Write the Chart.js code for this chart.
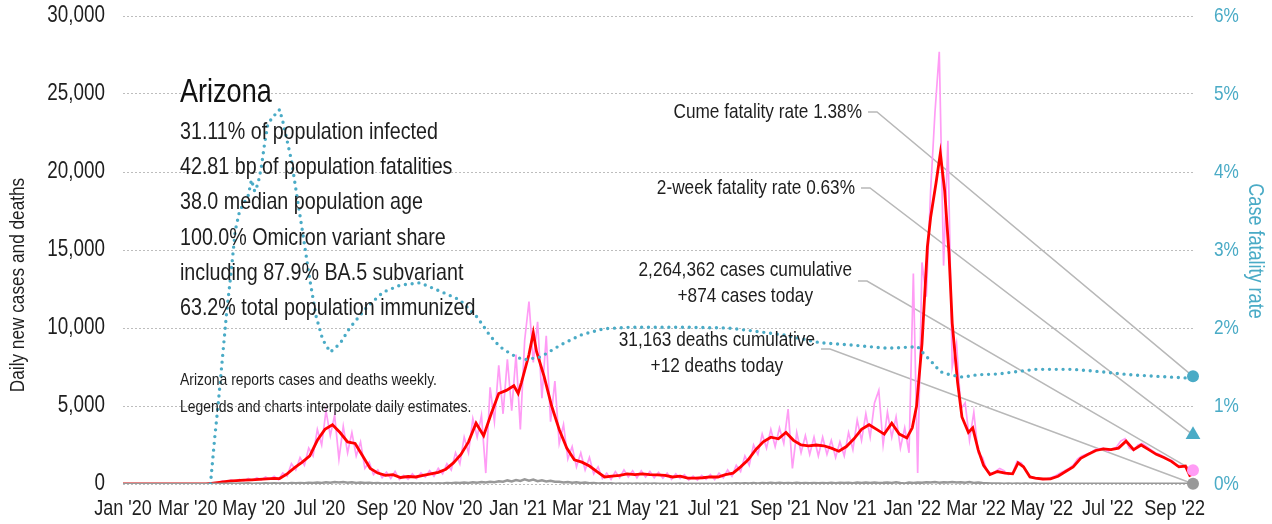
<!DOCTYPE html>
<html>
<head>
<meta charset="utf-8">
<script src="https://cdn.jsdelivr.net/npm/chart.js@4.4.1/dist/chart.umd.min.js"></script>
<style>
  html, body { margin: 0; padding: 0; background: #fff; }
  #chart { display: block; }
</style>
</head>
<body>
<canvas id="chart" width="1272" height="524"></canvas>
<script>
// no condensed face is installed, so text is drawn in Liberation Sans squeezed horizontally
const FONT = '"Liberation Sans", Arial, sans-serif';
const NARROW = 0.82;
const TEAL = '#4aabc6';
const PINK = '#ff9cf5';
const INK = '#1e1e1e';

// x axis runs in days since Jan 1 2020
const tickDays = [0, 60, 121, 182, 244, 305, 366, 425, 486, 547, 609, 670, 731, 790, 851, 912, 974];
const tickLabels = ["Jan '20", "Mar '20", "May '20", "Jul '20", "Sep '20", "Nov '20",
                    "Jan '21", "Mar '21", "May '21", "Jul '21", "Sep '21", "Nov '21",
                    "Jan '22", "Mar '22", "May '22", "Jul '22", "Sep '22"];
const lastDay = 991;
const caseTicks = [0, 5000, 10000, 15000, 20000, 25000, 30000];
const rateTicks = [0, 1, 2, 3, 4, 5, 6];

// daily estimates, one value every RAW_STEP days from day 0
const RAW_STEP = 4;
const rawCases = [
  0, 0, 0, 0, 0, 0, 0, 0, 0, 0,
  0, 0, 0, 0, 0, 0, 0, 0, 0, 0,
  30, 90, 70, 200, 120, 260, 170, 300, 200, 350,
  230, 400, 260, 450, 300, 500, 280, 700, 500, 1300,
  900, 1700, 1200, 2300, 1800, 3500, 2500, 4700, 3100, 4400,
  1600, 3700, 2000, 3300, 1800, 2700, 1000, 1400, 600, 900,
  400, 750, 350, 800, 300, 550, 300, 650, 350, 700,
  450, 850, 500, 1000, 650, 1300, 900, 2000, 1300, 3000,
  2000, 4200, 3000, 4400, 700, 6200, 4000, 7600, 4500, 8000,
  4700, 8300, 3500, 9200, 11700, 7800, 10400, 5500, 9500, 4000,
  6600, 2600, 3800, 1600, 2400, 1100, 2000, 900, 1700, 650,
  1100, 350, 700, 300, 800, 400, 900, 450, 850, 400,
  850, 450, 800, 400, 750, 380, 700, 300, 650, 350,
  600, 250, 500, 250, 550, 300, 600, 280, 700, 400,
  900, 500, 1200, 800, 1800, 1200, 2500, 1900, 3200, 2300,
  3500, 2400, 3600, 2600, 4800, 1000, 3300, 2000, 3100, 1900,
  3000, 1800, 3000, 1900, 2800, 1700, 2700, 1800, 3300, 2200,
  4100, 2800, 4500, 3000, 5200, 6000, 2500, 4600, 3000, 4300,
  2300, 3600, 2000, 13500, 700, 14200, 12000, 18800, 23800, 27700,
  14000, 22000, 7500, 9000, 4800, 5200, 2800, 4600, 2000, 1700,
  900, 650, 800, 1000, 850, 600, 700, 1450, 1350, 900,
  500, 380, 330, 300, 350, 420, 550, 700, 850, 1000,
  1200, 1600, 1800, 1900, 2000, 2200, 2250, 2300, 2100, 2250,
  2350, 2750, 2900, 2300, 2150, 2500, 2600, 2400, 2200, 2000,
  1900, 1750, 1600, 1500, 1150, 1200, 1100, 700
];
const rawDeaths = [
  0, 0, 0, 0, 0, 0, 0, 0, 0, 0,
  0, 0, 0, 0, 0, 0, 0, 0, 0, 0,
  5, 10, 8, 20, 15, 30, 20, 35, 25, 40,
  20, 35, 30, 45, 25, 40, 30, 50, 40, 60,
  45, 70, 50, 80, 60, 95, 70, 110, 80, 120,
  90, 130, 85, 115, 70, 95, 60, 80, 50, 70,
  40, 55, 30, 50, 25, 45, 30, 40, 25, 45,
  30, 50, 35, 55, 40, 60, 50, 75, 60, 90,
  70, 110, 80, 130, 90, 150, 120, 180, 150, 230,
  170, 260, 200, 300, 210, 280, 180, 240, 160, 200,
  140, 150, 100, 130, 80, 110, 60, 90, 50, 70,
  40, 50, 25, 40, 20, 35, 20, 30, 15, 30,
  20, 25, 15, 25, 15, 20, 10, 20, 15, 25,
  10, 20, 15, 20, 10, 15, 20, 10, 25, 15,
  30, 25, 40, 30, 50, 35, 60, 40, 70, 45,
  75, 50, 80, 55, 70, 50, 75, 45, 70, 50,
  65, 45, 70, 50, 75, 55, 80, 60, 85, 55,
  90, 60, 95, 65, 100, 70, 80, 100, 70, 110,
  60, 40, 90, 70, 100, 80, 110, 90, 120, 85,
  110, 100, 120, 90, 110, 80, 130, 70, 90, 60,
  50, 40, 25, 35, 20, 30, 20, 30, 15, 25,
  20, 25, 15, 20, 15, 20, 10, 15, 10, 15,
  10, 15, 12, 18, 10, 15, 12, 15, 10, 15,
  12, 15, 10, 14, 12, 15, 10, 14, 12, 15,
  10, 14, 12, 15, 10, 14, 12, 12
];

// 7-day average of new cases
const avgDays = [
  0, 77, 84, 91, 98, 105, 112, 119, 126, 133,
  140, 145, 152, 159, 166, 173, 180, 187, 194, 201,
  208, 215, 222, 229, 236, 243, 250, 257, 264, 271,
  278, 285, 292, 299, 306, 313, 320, 327, 334, 341,
  348, 355, 362, 366, 369, 376, 380, 383, 390, 397,
  404, 411, 418, 425, 432, 439, 446, 453, 460, 467,
  474, 481, 488, 495, 502, 509, 516, 523, 530, 537,
  544, 551, 558, 565, 572, 579, 586, 593, 600, 607,
  614, 621, 628, 635, 642, 649, 656, 663, 670, 677,
  684, 691, 698, 705, 712, 719, 726, 731, 735, 740,
  745, 748, 753, 757, 761, 765, 768, 773, 777, 783,
  787, 792, 797, 803, 810, 817, 824, 829, 834, 840,
  845, 852, 859, 866, 873, 880, 887, 894, 901, 908,
  915, 922, 929, 936, 943, 950, 957, 964, 971, 978,
  984, 988, 991
];
const avgCases = [
  0, 0, 60, 120, 180, 220, 250, 270, 300, 330,
  360, 350, 650, 1050, 1400, 1800, 2800, 3500, 3800, 3300,
  2700, 2600, 1800, 1000, 700, 550, 600, 420, 480, 450,
  550, 650, 750, 950, 1350, 1900, 2700, 3900, 3100, 4500,
  5800, 6000, 6300, 5800, 6500, 8300, 9700, 8500, 6900, 5000,
  3500, 2300, 1550, 1400, 1150, 800, 450, 500, 550, 650,
  600, 650, 600, 580, 550, 450, 500, 380, 380, 400,
  450, 450, 600, 700, 1100, 1550, 2200, 2700, 3000, 2900,
  3300, 2800, 2500, 2450, 2500, 2450, 2300, 2100, 2400, 2900,
  3500, 3800, 3500, 3200, 3900, 3200, 2950, 3600, 5000, 9000,
  15200, 17100, 19300, 21200, 18800, 14800, 10300, 6500, 4300, 3300,
  3600, 2200, 1200, 600, 800, 700, 650, 1350, 1100, 450,
  380, 320, 330, 500, 800, 1100, 1650, 1900, 2150, 2250,
  2200, 2300, 2750, 2200, 2500, 2200, 1900, 1700, 1450, 1100,
  1150, 550, 650
];

// case fatality rate, percent
const rateDays = [
  81, 85, 88, 92, 96, 100, 104, 108, 112, 116,
  119, 122, 125, 128, 131, 134, 139, 143, 145, 148,
  152, 156, 161, 167, 173, 179, 185, 192, 201, 210,
  226, 241, 257, 275, 294, 312, 328, 340, 349, 360,
  371, 387, 405, 424, 445, 470, 520, 560, 585, 612,
  646, 676, 708, 736, 741, 750, 757, 766, 778, 791,
  810, 827, 845, 880, 905, 933, 958, 984, 991
];
const rateValues = [
  0, 0.6, 1.0, 1.6, 2.2, 2.7, 3.25, 3.5, 3.6, 3.7,
  3.9, 3.75, 3.85, 4.05, 4.35, 4.6, 4.72, 4.75, 4.8, 4.65,
  4.4, 4.15, 3.7, 3.17, 2.62, 2.14, 1.85, 1.69, 1.8, 2.0,
  2.27, 2.46, 2.55, 2.58, 2.47, 2.36, 2.14, 1.9, 1.76, 1.66,
  1.59, 1.63, 1.78, 1.91, 1.99, 2.01, 2.01, 2.0, 1.96, 1.91,
  1.81, 1.78, 1.74, 1.76, 1.68, 1.55, 1.44, 1.40, 1.37, 1.40,
  1.41, 1.44, 1.47, 1.47, 1.44, 1.40, 1.38, 1.36, 1.38
];

const cumeRate = 1.38;
const twoWeekRate = 0.63;
const casesToday = 874;
const deathsToday = 12;

const headline = 'Arizona';
const factLines = [
  '31.11% of population infected',
  '42.81 bp of population fatalities',
  '38.0 median population age',
  '100.0% Omicron variant share',
  'including 87.9% BA.5 subvariant',
  '63.2% total population immunized'
];
const noteLines = [
  'Arizona reports cases and deaths weekly.',
  'Legends and charts interpolate daily estimates.'
];
const calloutTexts = [
  ['Cume fatality rate 1.38%'],
  ['2-week fatality rate 0.63%'],
  ['2,264,362 cases cumulative', '+874 cases today'],
  ['31,163 deaths cumulative', '+12 deaths today']
];
const leftTitle = 'Daily new cases and deaths';
const rightTitle = 'Case fatality rate';

// draw condensed text; returns drawn width
function textAt(ctx, str, x, y, size, align, color, rot) {
  ctx.save();
  ctx.font = size + 'px ' + FONT;
  ctx.textAlign = align;
  ctx.textBaseline = 'middle';
  ctx.fillStyle = color;
  ctx.translate(x, y);
  if (rot) ctx.rotate(rot);
  ctx.scale(NARROW, 1);
  ctx.fillText(str, 0, 0);
  const w = ctx.measureText(str).width * NARROW;
  ctx.restore();
  return w;
}

// callout layout: right edge of first line, line centres, leader start height
const calloutLayout = [
  { right: 862, ys: [112], lead: 112, axis: 'y1', value: cumeRate },
  { right: 855, ys: [188], lead: 188, axis: 'y1', value: twoWeekRate },
  { right: 852, ys: [270, 296], lead: 281, axis: 'y', value: casesToday },
  { right: 815, ys: [340, 366], lead: 349, axis: 'y', value: deathsToday }
];

const overlay = {
  id: 'overlay',
  beforeDatasetsDraw(chart) {
    const ctx = chart.ctx;
    const xs = chart.scales.x;
    ctx.save();
    ctx.strokeStyle = '#b8b8b8';
    ctx.lineWidth = 1.5;
    calloutLayout.forEach(c => {
      const px = xs.getPixelForValue(lastDay);
      const py = chart.scales[c.axis].getPixelForValue(c.value);
      ctx.beginPath();
      ctx.moveTo(c.right + 6, c.lead);
      ctx.lineTo(c.right + 15, c.lead);
      ctx.lineTo(px, py);
      ctx.stroke();
    });
    ctx.restore();
  },
  afterDatasetsDraw(chart) {
    const ctx = chart.ctx;
    const { x: xs, y: ys, y1: rs } = chart.scales;
    const area = chart.chartArea;

    // axis tick labels
    caseTicks.forEach(v => textAt(ctx, v.toLocaleString('en-US'), area.left - 18, ys.getPixelForValue(v), 23, 'right', INK));
    rateTicks.forEach(v => textAt(ctx, v + '%', area.right + 21, rs.getPixelForValue(v), 21, 'left', TEAL));
    tickDays.forEach((d, i) => textAt(ctx, tickLabels[i], xs.getPixelForValue(d), area.bottom + 25, 22, 'center', INK));
    textAt(ctx, leftTitle, 18, 285, 21, 'center', INK, -Math.PI / 2);
    textAt(ctx, rightTitle, 1255, 251, 22, 'center', TEAL, Math.PI / 2);

    // state summary
    textAt(ctx, headline, 180, 93, 33, 'left', '#111');
    factLines.forEach((t, i) => textAt(ctx, t, 180, 132 + i * 35.3, 24, 'left', INK));
    noteLines.forEach((t, i) => textAt(ctx, t, 180, 380 + i * 27, 17, 'left', INK));

    // callouts
    calloutTexts.forEach((lines, k) => {
      const c = calloutLayout[k];
      const w = textAt(ctx, lines[0], c.right, c.ys[0], 21, 'right', INK);
      if (lines[1]) textAt(ctx, lines[1], c.right - w / 2, c.ys[1], 21, 'center', INK);
    });
  }
};

const xyFromStep = (vals) => vals.map((v, i) => ({ x: i * RAW_STEP, y: v }));
const xyFromPairs = (days, vals) => days.map((d, i) => ({ x: d, y: vals[i] }));

new Chart(document.getElementById('chart'), {
  type: 'line',
  data: {
    datasets: [
      { data: [{ x: lastDay, y: cumeRate }], yAxisID: 'y1', showLine: false, clip: false,
        pointRadius: 6, pointBackgroundColor: TEAL, pointBorderWidth: 0, order: 0 },
      { data: [{ x: lastDay, y: twoWeekRate }], yAxisID: 'y1', showLine: false, clip: false,
        pointStyle: 'triangle', pointRadius: 8.5, pointBackgroundColor: TEAL, pointBorderWidth: 0, order: 0 },
      { data: [{ x: lastDay, y: casesToday }], yAxisID: 'y', showLine: false, clip: false,
        pointRadius: 6, pointBackgroundColor: PINK, pointBorderWidth: 0, order: 0 },
      { data: [{ x: lastDay, y: deathsToday }], yAxisID: 'y', showLine: false, clip: false,
        pointRadius: 6, pointBackgroundColor: '#999', pointBorderWidth: 0, order: 0 },
      { label: 'Case fatality rate', data: xyFromPairs(rateDays, rateValues), yAxisID: 'y1',
        borderColor: TEAL, borderWidth: 3.4, borderDash: [0, 6.8], borderCapStyle: 'round',
        pointRadius: 0, tension: 0, order: 1 },
      { label: 'Deaths', data: xyFromStep(rawDeaths), yAxisID: 'y',
        borderColor: '#999', borderWidth: 2.5, pointRadius: 0, tension: 0, order: 2 },
      { label: '7-day average', data: xyFromPairs(avgDays, avgCases), yAxisID: 'y',
        borderColor: '#ff0000', borderWidth: 2.8, pointRadius: 0, tension: 0, order: 3 },
      { label: 'Daily cases', data: xyFromStep(rawCases), yAxisID: 'y',
        borderColor: PINK, borderWidth: 1.7, pointRadius: 0, tension: 0, order: 4 }
    ]
  },
  options: {
    responsive: false,
    animation: false,
    devicePixelRatio: 1,
    layout: { padding: { top: 16, left: 0, right: 0, bottom: 0 } },
    plugins: { legend: { display: false }, tooltip: { enabled: false } },
    scales: {
      x: {
        type: 'linear',
        min: 0,
        max: lastDay,
        grid: { display: false },
        border: { display: false },
        afterBuildTicks: axis => { axis.ticks = tickDays.map(v => ({ value: v })); },
        afterFit: axis => { axis.height = 40; },
        ticks: { display: false }
      },
      y: {
        position: 'left',
        min: 0,
        max: 30000,
        afterBuildTicks: axis => { axis.ticks = caseTicks.map(v => ({ value: v })); },
        afterFit: axis => { axis.width = 123; },
        grid: { color: '#bdbdbd', lineWidth: 1, drawTicks: false },
        border: { display: false, dash: [2, 2] },
        ticks: { display: false }
      },
      y1: {
        position: 'right',
        min: 0,
        max: 6,
        afterFit: axis => { axis.width = 79; },
        grid: { drawOnChartArea: false, drawTicks: false },
        border: { display: false },
        ticks: { display: false }
      }
    }
  },
  plugins: [overlay]
});
</script>
</body>
</html>
